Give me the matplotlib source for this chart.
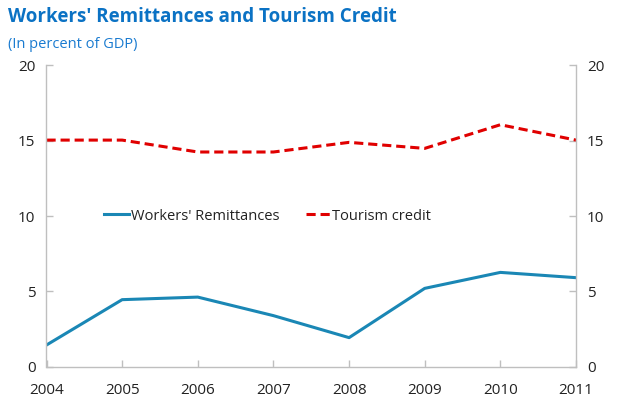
import matplotlib
matplotlib.use("Agg")
from matplotlib import pyplot as plt

years = [2004, 2005, 2006, 2007, 2008, 2009, 2010, 2011]
remittances = [1.44, 4.45, 4.62, 3.39, 1.93, 5.2, 6.26, 5.91]
tourism = [15.04, 15.04, 14.25, 14.25, 14.89, 14.49, 16.06, 15.04]
y_ticks = [0, 5, 10, 15, 20]

plt.rcParams['font.family'] = ['Open Sans', 'DejaVu Sans']

fig = plt.figure(figsize=(6.25, 4.01), dpi=100)
ax = fig.add_axes([0.0744, 0.0855, 0.8472, 0.7515])

ax.plot(years, remittances, color='#1A87B5', lw=2.2, label="Workers' Remittances")
ax.plot(years, tourism, color='#E00000', lw=2.2, ls=(0, (3, 1.6)), label='Tourism credit')

ax.set_xlim(2004, 2011)
ax.set_ylim(0, 20)
ax.set_xticks(years)
ax.set_yticks(y_ticks)

for s in ['top', 'right', 'left', 'bottom']:
    ax.spines[s].set_color('#BFBFBF')
    ax.spines[s].set_linewidth(1)
ax.spines['top'].set_visible(False)

ax.tick_params(axis='both', direction='in', colors='#BFBFBF', labelcolor='#222222',
               labelsize=11, length=5, width=1)
ax.tick_params(axis='x', pad=12)
ax.tick_params(axis='y', pad=8, right=True, labelright=True)

leg = ax.legend(loc='center', bbox_to_anchor=(0.418, 0.5), ncol=2, frameon=False,
                fontsize=10.5, handlelength=1.7, handletextpad=0.12, columnspacing=1.8,
                borderpad=0)
for t in leg.get_texts():
    t.set_color('#222222')

fig.text(0.013, 0.957, "Workers' Remittances and Tourism Credit", fontsize=13.5,
         fontweight='bold', color='#0B72C4', va='center')
fig.text(0.013, 0.89, '(In percent of GDP)', fontsize=10.5, color='#1A7BD0', va='center')

fig.savefig('out.png', dpi=100)
